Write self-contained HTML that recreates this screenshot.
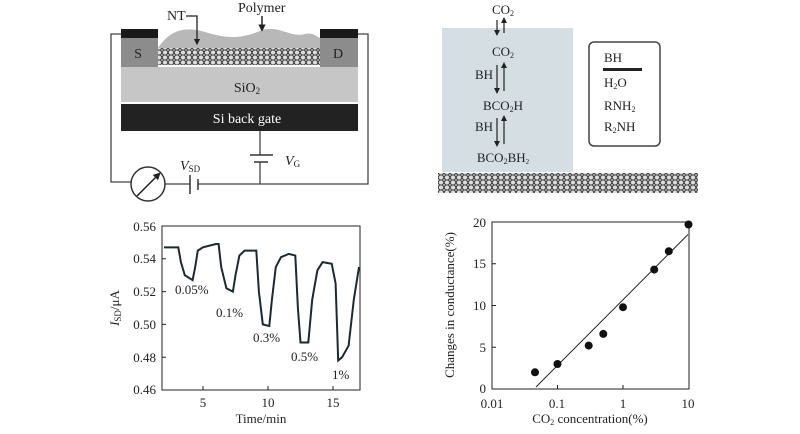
<!DOCTYPE html>
<html><head><meta charset="utf-8"><style>
html,body{margin:0;padding:0;background:#fff}
svg{display:block}
text{font-family:"Liberation Serif",serif;fill:#222}
</style></head><body>
<svg width="800" height="434" viewBox="0 0 800 434" xmlns="http://www.w3.org/2000/svg">
<defs>
<pattern id="hex" width="6" height="5" patternUnits="userSpaceOnUse">
<rect width="6" height="5" fill="#ddd"/>
<path d="M0 2.5 L1.5 0 L4.5 0 L6 2.5 L4.5 5 L1.5 5 Z" fill="none" stroke="#333" stroke-width="1"/>
</pattern>
<marker id="ah" viewBox="0 0 10 10" refX="5" refY="5" markerWidth="5" markerHeight="5" orient="auto"><path d="M0 0 L10 5 L0 10 Z" fill="#222"/></marker>
</defs>
<g stroke="#444" stroke-width="1.3" fill="none">
<path d="M122 34 H111 V182 H131"/>
<path d="M358 34 H368 V184 H198"/>
<path d="M260 131 V155 M260 162 V184"/>
<path d="M165 184 H190"/>
</g>
<path d="M158 48 C170 30,185 26,205 32 C225 38,240 40,262 30 C280 25,290 38,305 34 C312 32,316 36,320 38 L320 48 Z" fill="#b8b8b8"/>
<rect x="121" y="38" width="37" height="29" fill="#8c8c8c"/>
<rect x="320" y="38" width="38" height="29" fill="#8c8c8c"/>
<rect x="121" y="29" width="37" height="9" fill="#1a1a1a"/>
<rect x="320" y="29" width="38" height="9" fill="#1a1a1a"/>
<rect x="158" y="48" width="162" height="17" fill="url(#hex)"/>
<rect x="121" y="67" width="237" height="35" fill="#c6c6c6"/>
<rect x="121" y="104" width="237" height="27" fill="#222"/>
<text x="138" y="58" font-size="14" text-anchor="middle">S</text>
<text x="338" y="58" font-size="14" text-anchor="middle">D</text>
<text x="247" y="92" font-size="14" text-anchor="middle">SiO<tspan font-size="9" dy="2">2</tspan></text>
<text x="247" y="123" font-size="14" text-anchor="middle" style="fill:#fff">Si back gate</text>
<g stroke="#333" stroke-width="1.5">
<line x1="250" y1="155" x2="273" y2="155"/><line x1="254" y1="162" x2="268" y2="162"/>
<line x1="190" y1="175" x2="190" y2="194"/><line x1="198" y1="179" x2="198" y2="190"/>
</g>
<circle cx="148" cy="184" r="17" fill="#fff" stroke="#333" stroke-width="1.5"/>
<line x1="137" y1="196" x2="158" y2="175" stroke="#222" stroke-width="1.5" marker-end="url(#ah)"/>
<text x="180" y="170" font-size="14" font-style="italic">V<tspan font-size="9" font-style="normal" dy="2">SD</tspan></text>
<text x="285" y="165" font-size="14" font-style="italic">V<tspan font-size="9" font-style="normal" dy="2">G</tspan></text>
<text x="167" y="20" font-size="14">NT</text>
<path d="M186 16 H197 V42" stroke="#222" stroke-width="1.3" fill="none" marker-end="url(#ah)"/>
<text x="238" y="12" font-size="14">Polymer</text>
<line x1="262" y1="16" x2="262" y2="28" stroke="#222" stroke-width="1.5" marker-end="url(#ah)"/>
<rect x="442" y="28" width="131" height="144" fill="#d5dfe3"/>
<rect x="589" y="42" width="71" height="104" rx="5" fill="#fff" stroke="#444" stroke-width="1.5"/>
<rect x="438" y="173" width="260" height="20" fill="url(#hex)"/>
<g font-size="13" text-anchor="middle">
<text x="503" y="14">CO<tspan font-size="8" dy="2">2</tspan></text>
<text x="503" y="56">CO<tspan font-size="8" dy="2">2</tspan></text>
<text x="503" y="110">BCO<tspan font-size="8" dy="2">2</tspan><tspan dy="-2">H</tspan></text>
<text x="503" y="162">BCO<tspan font-size="8" dy="2">2</tspan><tspan dy="-2">BH</tspan><tspan font-size="7" dy="2">2</tspan></text>
<text x="484" y="79">BH</text><text x="484" y="131">BH</text>
</g>
<g stroke="#222" stroke-width="1.2" marker-end="url(#ah)">
<line x1="497" y1="20" x2="497" y2="33"/><line x1="504" y1="33" x2="504" y2="20"/>
<line x1="497" y1="65" x2="497" y2="91"/><line x1="504" y1="91" x2="504" y2="65"/>
<line x1="497" y1="118" x2="497" y2="144"/><line x1="504" y1="144" x2="504" y2="118"/>
</g>
<g font-size="13">
<text x="604" y="62">BH</text>
<rect x="603" y="68" width="39" height="3" fill="#222"/>
<text x="604" y="87">H<tspan font-size="8" dy="2">2</tspan><tspan dy="-2">O</tspan></text>
<text x="604" y="110">RNH<tspan font-size="8" dy="2">2</tspan></text>
<text x="604" y="131">R<tspan font-size="8" dy="2">2</tspan><tspan dy="-2">NH</tspan></text>
</g>
<rect x="162" y="226" width="198" height="164" fill="none" stroke="#222" stroke-width="1"/>
<g stroke="#222" stroke-width="1">
<path d="M162 258.8h4M162 291.6h4M162 324.4h4M162 357.2h4M203 390v-4M268 390v-4M333 390v-4"/>
</g>
<g font-size="13" text-anchor="end">
<text x="156" y="231">0.56</text><text x="156" y="263">0.54</text><text x="156" y="296">0.52</text>
<text x="156" y="329">0.50</text><text x="156" y="362">0.48</text><text x="156" y="394">0.46</text>
</g>
<g font-size="13" text-anchor="middle">
<text x="203" y="407">5</text><text x="268" y="407">10</text><text x="333" y="407">15</text>
<text x="261" y="423">Time/min</text>
</g>
<text transform="translate(119,308) rotate(-90)" font-size="13" text-anchor="middle"><tspan font-style="italic">I</tspan><tspan font-size="9" dy="2">SD</tspan><tspan dy="-2">/μA</tspan></text>
<g transform="matrix(13 0 0 -1640 138 1144.4)">
<polyline vector-effect="non-scaling-stroke" fill="none" stroke="#1a2a33" stroke-width="2" points="2,0.547 3.1,0.547 3.3,0.538 3.6,0.530 4.2,0.527 4.4,0.535 4.6,0.545 5,0.547 6,0.549 6.2,0.549 6.4,0.535 6.8,0.522 7.3,0.520 7.5,0.530 7.8,0.542 8.2,0.545 9.1,0.545 9.3,0.520 9.6,0.500 10.1,0.499 10.3,0.515 10.6,0.535 11,0.541 11.6,0.543 12.1,0.542 12.3,0.510 12.5,0.489 13.1,0.489 13.4,0.515 13.8,0.533 14.2,0.538 14.9,0.537 15.2,0.525 15.4,0.478 15.7,0.480 16.2,0.487 16.6,0.515 17,0.535"/>
</g>
<g font-size="13">
<text x="175" y="294">0.05%</text><text x="216" y="317">0.1%</text><text x="253" y="342">0.3%</text>
<text x="291" y="361">0.5%</text><text x="332" y="379">1%</text>
</g>
<rect x="492" y="222" width="197" height="167" fill="none" stroke="#222" stroke-width="1"/>
<g stroke="#222" stroke-width="1">
<path d="M492 347.3h4M492 305.5h4M492 263.8h4M557.5 389v-4M623 389v-4"/>
</g>
<g font-size="13" text-anchor="end">
<text x="486" y="227">20</text><text x="486" y="268">15</text><text x="486" y="310">10</text>
<text x="486" y="352">5</text><text x="486" y="393">0</text>
</g>
<g font-size="13" text-anchor="middle">
<text x="492" y="408">0.01</text><text x="557" y="408">0.1</text><text x="623" y="408">1</text><text x="688" y="408">10</text>
<text x="590" y="423">CO<tspan font-size="8" dy="2">2</tspan><tspan dy="-2"> concentration(%)</tspan></text>
</g>
<text transform="translate(454,305) rotate(-90)" font-size="13" text-anchor="middle">Changes in conductance(%)</text>
<line x1="536" y1="387" x2="688" y2="234.5" stroke="#222" stroke-width="1"/>
<g fill="#111">
<circle cx="535" cy="372.3" r="4"/><circle cx="557.5" cy="364" r="4"/><circle cx="588.7" cy="345.6" r="4"/>
<circle cx="603.3" cy="333.9" r="4"/><circle cx="623" cy="307.2" r="4"/><circle cx="654.2" cy="269.6" r="4"/>
<circle cx="668.8" cy="251.2" r="4"/><circle cx="688.5" cy="224.5" r="4"/>
</g>
</svg>
</body></html>
